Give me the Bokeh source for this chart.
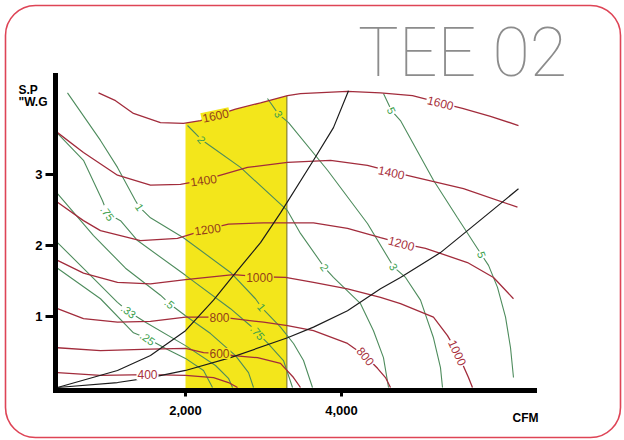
import numpy as np
from bokeh.plotting import figure
from bokeh.models import (ColumnDataSource, Range1d, FixedTicker, NumeralTickFormatter,
                          Label, BoxAnnotation)
from bokeh.core.properties import value
from bokeh.embed import file_html
from bokeh.resources import INLINE

# ---------------- data (CFM, static pressure "W.G) ----------------
title_text = "TEE 02"
x_ticks = [2000, 4000]
y_ticks = [1, 2, 3]
yellow_band = [2000, 3300]          # highlighted CFM band

# fan speed curves (RPM)
rpm_1600_cfm = [885, 1103, 1333, 1679, 1974, 2192, 2385, 2641, 2962, 3308, 3474, 4077, 4500, 4910, 5269, 5551, 5910, 6269]
rpm_1600_sp = [4.15, 4.04, 3.86, 3.73, 3.72, 3.76, 3.83, 3.92, 4.01, 4.11, 4.14, 4.17, 4.15, 4.11, 4.01, 3.93, 3.82, 3.69]
rpm_1400_cfm = [359, 692, 1128, 1551, 1936, 2231, 2385, 2795, 3308, 3859, 4333, 4641, 4910, 5564, 6256]
rpm_1400_sp = [3.59, 3.31, 2.99, 2.85, 2.86, 2.92, 2.97, 3.10, 3.17, 3.20, 3.13, 3.04, 2.97, 2.80, 2.54]
rpm_1200_cfm = [359, 692, 910, 1423, 1897, 2282, 2551, 3000, 3308, 3641, 4077, 4500, 4769, 5077, 5615, 5949, 6205]
rpm_1200_sp = [2.61, 2.35, 2.21, 2.07, 2.10, 2.23, 2.30, 2.32, 2.32, 2.32, 2.24, 2.11, 2.03, 1.96, 1.76, 1.55, 1.25]
rpm_1000_cfm = [359, 692, 1128, 1551, 2000, 2615, 2949, 3282, 3641, 4077, 4500, 4756, 5179, 5359, 5487, 5628, 5679]
rpm_1000_sp = [1.79, 1.61, 1.48, 1.46, 1.52, 1.59, 1.56, 1.55, 1.48, 1.39, 1.27, 1.18, 0.99, 0.73, 0.49, 0.14, 0.0]
rpm_800_cfm = [359, 692, 1128, 1551, 2000, 2436, 2615, 3000, 3308, 3641, 4077, 4308, 4462, 4564, 4628]
rpm_800_sp = [1.11, 0.97, 0.92, 0.93, 0.99, 0.99, 0.97, 0.92, 0.87, 0.80, 0.62, 0.44, 0.27, 0.14, 0.0]
rpm_600_cfm = [359, 910, 1551, 2000, 2231, 2436, 2615, 2923, 3218, 3385, 3474]
rpm_600_sp = [0.56, 0.52, 0.54, 0.55, 0.49, 0.48, 0.45, 0.42, 0.34, 0.14, 0.0]
rpm_400_cfm = [359, 910, 1513, 2000, 2359, 2551, 2667]
rpm_400_sp = [0.21, 0.17, 0.18, 0.17, 0.14, 0.07, 0.0]

# brake horsepower curves
bhp_5_cfm = [4538, 4641, 4756, 5179, 5487, 5795, 5885, 6000, 6103, 6167, 6205]
bhp_5_sp = [4.14, 3.90, 3.76, 2.92, 2.39, 1.87, 1.72, 1.41, 0.99, 0.56, 0.14]
bhp_3_cfm = [3051, 3192, 3321, 3821, 4333, 4667, 4821, 5013, 5179, 5269, 5295]
bhp_3_sp = [4.07, 3.85, 3.73, 3.06, 2.31, 1.70, 1.55, 1.23, 0.70, 0.28, 0.0]
bhp_2_cfm = [2026, 2205, 2346, 2705, 3308, 3474, 3782, 3897, 4244, 4410, 4538, 4603]
bhp_2_sp = [3.69, 3.49, 3.38, 3.10, 2.49, 2.17, 1.69, 1.55, 1.18, 0.80, 0.42, 0.0]
bhp_1_cfm = [487, 910, 1128, 1359, 1410, 1551, 1974, 2577, 2897, 2974, 3218, 3385, 3513, 3628]
bhp_1_sp = [4.15, 3.48, 3.10, 2.63, 2.54, 2.39, 2.11, 1.62, 1.25, 1.13, 0.85, 0.62, 0.38, 0.0]
bhp_075_cfm = [359, 692, 936, 1000, 1167, 1385, 2000, 2577, 2833, 2923, 3051, 3256, 3372]
bhp_075_sp = [3.58, 3.20, 2.63, 2.45, 2.35, 2.07, 1.58, 1.11, 0.87, 0.77, 0.63, 0.38, 0.0]
bhp_05_cfm = [359, 821, 1231, 1679, 1795, 2000, 2321, 2641, 2808, 2872]
bhp_05_sp = [2.73, 2.14, 1.68, 1.30, 1.18, 1.01, 0.76, 0.45, 0.21, 0.0]
bhp_033_cfm = [359, 782, 1128, 1269, 1487, 2000, 2385, 2551, 2603]
bhp_033_sp = [2.04, 1.58, 1.20, 1.07, 0.92, 0.59, 0.31, 0.13, 0.0]
bhp_025_cfm = [359, 910, 1333, 1513, 1744, 2000, 2231, 2346]
bhp_025_sp = [1.68, 1.25, 0.77, 0.69, 0.55, 0.41, 0.24, 0.0]

# system resistance curves
sys_a_cfm = [359, 1128, 1551, 2000, 2359, 2615, 2962, 3218, 3641, 3897, 4090]
sys_a_sp = [0.0, 0.24, 0.45, 0.80, 1.23, 1.58, 2.04, 2.46, 3.20, 3.66, 4.18]
sys_b_cfm = [359, 1128, 1551, 2000, 2577, 3308, 3641, 4077, 4500, 4756, 5269, 5615, 6038, 6269]
sys_b_sp = [0.0, 0.07, 0.14, 0.24, 0.42, 0.70, 0.85, 1.08, 1.39, 1.55, 1.90, 2.21, 2.59, 2.80]

# curve labels
rpm_label_text = ["1600", "1600", "1400", "1400", "1200", "1200", "1000", "1000", "800", "800", "600", "400"]
rpm_label_cfm = [2385, 5269, 2231, 4641, 2282, 4769, 2949, 5487, 2436, 4308, 2436, 1513]
rpm_label_sp = [3.83, 4.01, 2.92, 3.03, 2.23, 2.03, 1.55, 0.49, 0.99, 0.44, 0.48, 0.18]
rpm_label_deg = [12, -14, 8, -12, 8, -15, 0, -65, 0, -50, 0, 0]

bhp_label_text = [".25", ".33", ".5", ".75", "1", "2", "3", "1", ".75", "2", "3", "5", "5"]
bhp_label_cfm = [1513, 1269, 1795, 1000, 1410, 2205, 3192, 2974, 2923, 3782, 4667, 4641, 5795]
bhp_label_sp = [0.69, 1.07, 1.18, 2.45, 2.54, 3.49, 3.85, 1.13, 0.77, 1.69, 1.70, 3.90, 1.87]
bhp_label_deg = [-35, -38, -38, -55, -55, -50, -60, -50, -50, -55, -60, -65, -70]

# ---------------- layout ----------------
W, H = 624, 440
PX0, KX = 29.0, 0.078      # canvas x of 0 CFM, px per CFM
PY0, KY = 387.0, 71.0      # canvas y of 0 "W.G, px per "W.G


def cx(px):
    return (px - PX0) / KX


def cy(py):
    return (PY0 - py) / KY


p = figure(width=W, height=H, output_backend="svg", toolbar_location=None,
           x_range=Range1d(cx(0), cx(W)), y_range=Range1d(cy(H), cy(0)))
p.min_border = 0
p.min_border_left = p.min_border_right = p.min_border_top = p.min_border_bottom = 0
p.title.visible = False
p.outline_line_color = None
p.grid.visible = False
p.background_fill_color = "white"
p.border_fill_color = "white"

X_AXIS_AT = cy(390)      # data level of the CFM axis line
Y_AXIS_AT = cx(55)       # data position of the S.P axis line

AX_FONT = "Liberation Sans"
for ax in (p.xaxis[0], p.yaxis[0]):
    ax.axis_line_width = 5
    ax.axis_line_color = "black"
    ax.axis_line_cap = "square"
    ax.major_tick_line_width = 3
    ax.major_tick_line_color = "black"
    ax.major_tick_in = 0
    ax.minor_tick_line_color = None
    ax.major_label_text_font = AX_FONT
    ax.major_label_text_font_style = "bold"
    ax.major_label_text_color = "black"
p.xaxis.fixed_location = X_AXIS_AT
p.yaxis.fixed_location = Y_AXIS_AT
p.xaxis.bounds = (Y_AXIS_AT, cx(534))
p.yaxis.bounds = (X_AXIS_AT, cy(75))
p.xaxis.ticker = FixedTicker(ticks=x_ticks)
p.xaxis.formatter = NumeralTickFormatter(format="0,0")
p.xaxis.major_tick_out = 6
p.xaxis.major_label_standoff = 9
p.xaxis.major_label_text_font_size = "13px"
p.yaxis.ticker = FixedTicker(ticks=y_ticks)
p.yaxis.major_tick_out = 10
p.yaxis.major_label_standoff = 3
p.yaxis.major_label_text_font_size = "13px"

# yellow band under the 1600 rpm curve
band_x = np.linspace(yellow_band[0], yellow_band[1], 60)
band_top = np.interp(band_x, rpm_1600_cfm, rpm_1600_sp)
p.patch(list(band_x) + [yellow_band[1], yellow_band[0]],
        list(band_top) + [X_AXIS_AT, X_AXIS_AT], fill_color="#f3e61b", line_color=None)
p.line([yellow_band[1], yellow_band[1]], [X_AXIS_AT, band_top[-1]], line_color="#6f6a2a", line_width=1)

GREEN = "#4e8c5d"
RED = "#a22c3c"
for xs, ys in [(bhp_5_cfm, bhp_5_sp), (bhp_3_cfm, bhp_3_sp), (bhp_2_cfm, bhp_2_sp),
               (bhp_1_cfm, bhp_1_sp), (bhp_075_cfm, bhp_075_sp), (bhp_05_cfm, bhp_05_sp),
               (bhp_033_cfm, bhp_033_sp), (bhp_025_cfm, bhp_025_sp)]:
    p.line(xs, ys, line_color=GREEN, line_width=1.1)
for xs, ys in [(rpm_1600_cfm, rpm_1600_sp), (rpm_1400_cfm, rpm_1400_sp), (rpm_1200_cfm, rpm_1200_sp),
               (rpm_1000_cfm, rpm_1000_sp), (rpm_800_cfm, rpm_800_sp), (rpm_600_cfm, rpm_600_sp),
               (rpm_400_cfm, rpm_400_sp)]:
    p.line(xs, ys, line_color=RED, line_width=1.3)
for xs, ys in [(sys_a_cfm, sys_a_sp), (sys_b_cfm, sys_b_sp)]:
    p.line(xs, ys, line_color="#1c1c1c", line_width=1.2)


def in_band(x, y):
    return yellow_band[0] <= x <= yellow_band[1] and y <= np.interp(x, rpm_1600_cfm, rpm_1600_sp) + 0.1


rpm_bg = ["#f3e61b" if in_band(x, y) else "white" for x, y in zip(rpm_label_cfm, rpm_label_sp)]
rpm_col = ["#94401a" if in_band(x, y) else "#a8303c" for x, y in zip(rpm_label_cfm, rpm_label_sp)]
src_r = ColumnDataSource(dict(x=rpm_label_cfm, y=rpm_label_sp, t=rpm_label_text,
                              a=list(np.radians(rpm_label_deg)), bg=rpm_bg, c=rpm_col))
p.text("x", "y", text="t", angle="a", source=src_r, text_color="c",
       background_fill_color="bg", text_font=value(AX_FONT), text_font_size="12px",
       text_align="center", text_baseline="middle", padding=1)

bhp_bg = ["#f3e61b" if in_band(x, y) else "white" for x, y in zip(bhp_label_cfm, bhp_label_sp)]
src_g = ColumnDataSource(dict(x=bhp_label_cfm, y=bhp_label_sp, t=bhp_label_text,
                              a=list(np.radians(bhp_label_deg)), bg=bhp_bg))
p.text("x", "y", text="t", angle="a", source=src_g, text_color="#3c9f4c",
       background_fill_color="bg", text_font=value(AX_FONT), text_font_size="11px",
       text_align="center", text_baseline="middle", padding=1)

# axis captions and title
for txt, px_, py_ in [("S.P", 18, 89), ('"W.G', 18, 101)]:
    p.add_layout(Label(x=cx(px_), y=cy(py_), text=txt, text_font=AX_FONT, text_font_style="bold",
                       text_font_size="12px", text_color="black", text_baseline="alphabetic"))
p.add_layout(Label(x=cx(512), y=cy(417), text="CFM", text_font=AX_FONT, text_font_style="bold",
                   text_font_size="12px", text_color="black", text_baseline="alphabetic"))
p.add_layout(Label(x=cx(462), y=cy(52), text=title_text,
                   text_font="'Roboto Thin', 'Lato Hairline', 'Lato Light', sans-serif",
                   text_font_size="68px", text_color="#8c8c8c", text_align="center",
                   text_baseline="middle"))

# rounded frame around the card
p.add_layout(BoxAnnotation(left=cx(5), right=cx(620), top=cy(5), bottom=cy(437),
                           fill_alpha=0, line_color="#de4456", line_alpha=1.0, line_width=1.6,
                           border_radius=30))

open("out.html", "w").write(file_html(p, INLINE))
